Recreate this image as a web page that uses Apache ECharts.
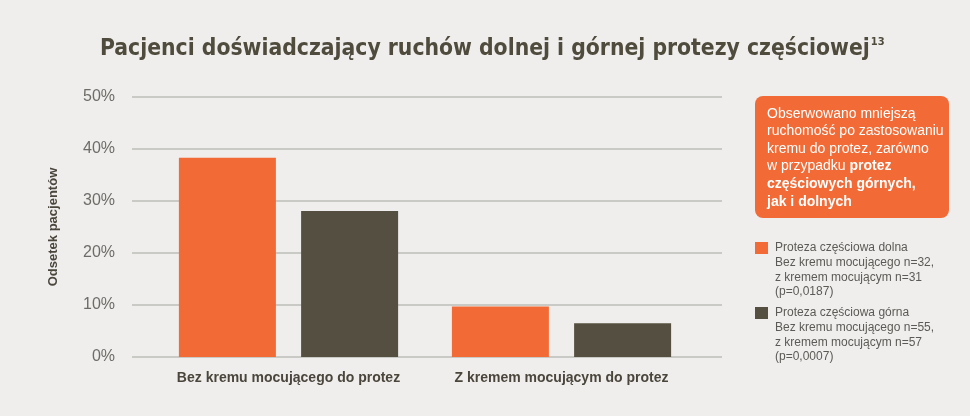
<!DOCTYPE html>
<html>
<head>
<meta charset="utf-8">
<script src="https://cdn.jsdelivr.net/npm/echarts@6/dist/echarts.min.js"></script>
<style>
html,body{margin:0;padding:0;background:#efeeec;}
#c{width:970px;height:416px;}
</style>
</head>
<body>
<div id="c"></div>
<script>
const titleText = 'Pacjenci doświadczający ruchów dolnej i górnej protezy częściowej';
const titleSup = '13';
const yAxisName = 'Odsetek pacjentów';
const categories = ['Bez kremu mocującego do protez', 'Z kremem mocującym do protez'];
const seriesNames = ['Proteza częściowa dolna', 'Proteza częściowa górna'];
const lowerValues = [38.3, 9.7];
const upperValues = [28.1, 6.5];
const yMin = 0, yMax = 50, yStep = 10;
const calloutLines = [
  [['n', 'Obserwowano mniejszą']],
  [['n', 'ruchomość po zastosowaniu']],
  [['n', 'kremu do protez, zarówno']],
  [['n', 'w przypadku '], ['b', 'protez']],
  [['b', 'częściowych górnych,']],
  [['b', 'jak i dolnych']]
];
const legendDetails = [
  ['Bez kremu mocującego n=32,', 'z kremem mocującym n=31', '(p=0,0187)'],
  ['Bez kremu mocującego n=55,', 'z kremem mocującym n=57', '(p=0,0007)']
];

const ORANGE = '#f26a35', DARK = '#554f41', TXT = '#4f4b3d';
const TF = "'Liberation Sans Narrow','DejaVu Sans Condensed',sans-serif";
const chart = echarts.init(document.getElementById('c'), null, {renderer: 'canvas'});

const calloutText = calloutLines.map(l => l.map(([s, t]) => '{' + s + '|' + t + '}').join('')).join('\n');
const legendTexts = seriesNames.map((n, i) => [n].concat(legendDetails[i]).join('\n'));

chart.setOption({
  backgroundColor: '#efeeec',
  animation: false,
  title: {
    text: '{t|' + titleText + '}{s|' + titleSup + '}',
    left: 95, top: 32,
    textStyle: {
      rich: {
        t: {fontFamily: TF, fontWeight: 'bold', fontSize: 22.7, color: TXT},
        s: {fontFamily: TF, fontWeight: 'bold', fontSize: 11, color: TXT, padding: [0, 0, 13, 1]}
      }
    }
  },
  grid: [
    {left: 152, right: 272, top: 97, bottom: 59},
    {left: 132, right: 248, top: 97, bottom: 59}
  ],
  xAxis: [
    {
      type: 'category', gridIndex: 0, data: categories,
      axisLine: {show: false}, axisTick: {show: false},
      axisLabel: {interval: 0, margin: 14, fontFamily: "'Liberation Sans',Arial,sans-serif", fontWeight: 'bold', fontSize: 14, color: '#4a463c'}
    },
    {type: 'value', gridIndex: 1, show: false, min: 0, max: 1}
  ],
  yAxis: [
    {type: 'value', gridIndex: 0, min: yMin, max: yMax, interval: yStep, show: false, splitLine: {show: false}},
    {
      type: 'value', gridIndex: 1, min: yMin, max: yMax, interval: yStep,
      name: yAxisName, nameLocation: 'middle', nameRotate: 90, nameGap: 72,
      nameTextStyle: {fontFamily: "'Liberation Sans',Arial,sans-serif", fontWeight: 'bold', fontSize: 13, color: '#4a463c'},
      axisLine: {show: false}, axisTick: {show: false},
      axisLabel: {formatter: '{value}%', margin: 17, fontFamily: "'Liberation Sans',Arial,sans-serif", fontSize: 16, color: '#6e6c68'},
      splitLine: {lineStyle: {color: '#bdbcba', width: 1.5}}
    }
  ],
  series: [
    {name: seriesNames[0], type: 'bar', xAxisIndex: 0, yAxisIndex: 0, data: lowerValues, barWidth: 97, barGap: '26%', itemStyle: {color: ORANGE}, z: 3},
    {name: seriesNames[1], type: 'bar', xAxisIndex: 0, yAxisIndex: 0, data: upperValues, barWidth: 97, barGap: '26%', itemStyle: {color: DARK}, z: 3}
  ],
  graphic: [
    {type: 'rect', left: 755, top: 96, shape: {width: 194, height: 122, r: 8}, style: {fill: ORANGE}},
    {type: 'text', left: 767, top: 105, style: {
      text: calloutText, fill: '#fff', lineHeight: 17.6,
      rich: {
        n: {fontFamily: "'Liberation Sans',Arial,sans-serif", fontSize: 14, color: '#fff', lineHeight: 17.6},
        b: {fontFamily: "'Liberation Sans',Arial,sans-serif", fontSize: 14, fontWeight: 'bold', color: '#fff', lineHeight: 17.6}
      }
    }},
    {type: 'rect', left: 755, top: 242, shape: {width: 13, height: 12}, style: {fill: ORANGE}},
    {type: 'text', left: 775, top: 240.5, style: {text: legendTexts[0], fill: '#5c5a56', font: "12px 'Liberation Sans',Arial,sans-serif", lineHeight: 14.7}},
    {type: 'rect', left: 755, top: 307, shape: {width: 13, height: 12}, style: {fill: DARK}},
    {type: 'text', left: 775, top: 305.5, style: {text: legendTexts[1], fill: '#5c5a56', font: "12px 'Liberation Sans',Arial,sans-serif", lineHeight: 14.7}}
  ]
});
</script>
</body>
</html>
